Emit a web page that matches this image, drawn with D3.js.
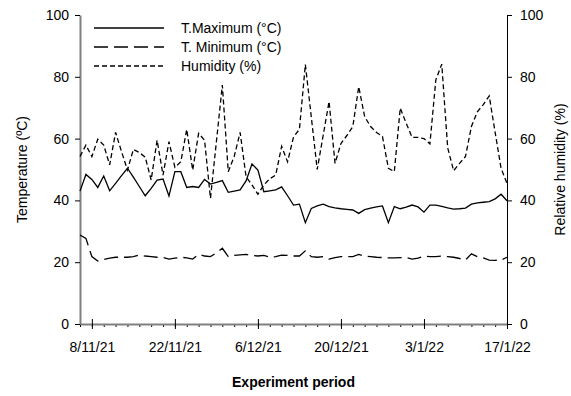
<!DOCTYPE html>
<html>
<head>
<meta charset="utf-8">
<script src="https://cdn.jsdelivr.net/npm/d3@7"></script>
<style>
  body { margin: 0; background: #fff; }
  text { font-family: Arial, "Liberation Sans", sans-serif; fill: #000; }
</style>
</head>
<body>
<div id="chart"></div>
<script>
// daily readings, 6/11/21 .. 17/1/22
const startDay = new Date(2021, 10, 6);
const endDay = new Date(2022, 0, 17);
const tickLabels = ["8/11/21", "22/11/21", "6/12/21", "20/12/21", "3/1/22", "17/1/22"];
const yTicks = [0, 20, 40, 60, 80, 100];
const seriesNames = ["T.Maximum (°C)", "T. Minimum (°C)", "Humidity (%)"];

const tMax = [43, 48.4, 46.8, 44.2, 47.9, 43.1, 45.5, 48, 50.4, 47.5, 44.5, 41.5, 43.9, 46.6, 46.9, 41.4,
  49.3, 49.3, 44.2, 44.5, 44.2, 46.8, 45.3, 45.8, 46.4, 42.6, 43, 43.4, 46.3, 51.8, 49.8, 42.8, 43.1,
  43.4, 44.4, 41.5, 38.5, 38.8, 32.8, 37.4, 38.2, 38.8, 38, 37.6, 37.3, 37.1, 36.9, 35.8, 37, 37.5,
  37.9, 38.2, 32.8, 38, 37.3, 37.8, 38.5, 37.9, 36.2, 38.5, 38.5, 38.1, 37.6, 37.2, 37.3, 37.5, 38.8,
  39.2, 39.4, 39.6, 40.5, 42, 39.9];

const tMin = [28.8, 27.7, 21.8, 20.4, 20.9, 21.3, 21.6, 21.6, 21.6, 21.8, 22.3, 22, 21.8, 21.6, 21.5, 21,
  21.3, 21.6, 21.4, 21, 22.5, 22, 21.8, 23, 24.5, 21.8, 22.2, 22.4, 22.5, 22.2, 22, 22.2, 21.6, 21.8,
  22.3, 22.2, 22, 22, 23.7, 21.8, 21.6, 21.8, 21, 21.5, 21.8, 21.8, 21.8, 22.5, 22, 21.8, 21.6, 21.5,
  21.4, 21.4, 21.5, 21.5, 21, 21.3, 22, 21.8, 21.8, 22, 21.8, 21.6, 21.2, 20.7, 22.7, 21.8, 21.4,
  20.7, 20.6, 20.7, 21.6];

const humidity = [54.2, 57.9, 54.2, 59.8, 57.9, 51.5, 62, 55.8, 49.8, 56.5, 55.5, 54, 46.6, 59.5, 48.2,
  59, 50.7, 52.5, 63, 49.8, 61.7, 59.5, 40.7, 59, 77.3, 49.3, 54.2, 62, 47.7, 45, 42, 45, 47, 48.2,
  57.5, 52.5, 60.5, 63, 84, 67, 50, 61, 72, 52, 58.4, 61, 63.9, 76.8, 67.1, 63.9, 62, 60.7, 50.4,
  49.3, 69.9, 65, 60.4, 60.4, 60, 58.3, 79, 84.1, 57, 49.6, 52, 54.2, 63.9, 68.7, 71, 73.8, 62, 50.4,
  45.5];

const days = d3.timeDay.range(startDay, d3.timeDay.offset(endDay, 1));

const width = 571, height = 396;
const margin = { top: 15, right: 64, bottom: 72, left: 80 };

const svg = d3.select("#chart").append("svg")
  .attr("width", width)
  .attr("height", height);

const x = d3.scaleTime().domain([startDay, endDay]).range([margin.left, width - margin.right]);
const yL = d3.scaleLinear().domain([0, 100]).range([height - margin.bottom, margin.top]);
const yR = d3.scaleLinear().domain([0, 100]).range([height - margin.bottom, margin.top]);

const parseTick = d3.timeParse("%d/%m/%y");
const majorTicks = tickLabels.map(parseTick);
// a small tick every second day
const minorTicks = days.filter((d, i) => i % 2 === 0);

// bottom axis: minor ticks
svg.append("g")
  .attr("transform", `translate(0,${height - margin.bottom})`)
  .call(d3.axisBottom(x).tickValues(minorTicks).tickSize(3).tickFormat(""))
  .call(g => g.select(".domain").remove())
  .call(g => g.selectAll("line").attr("stroke", "#000"));

// bottom axis: major ticks + labels
const xAxis = svg.append("g")
  .attr("transform", `translate(0,${height - margin.bottom})`)
  .call(d3.axisBottom(x).tickValues(majorTicks).tickSize(5).tickSizeOuter(0).tickPadding(13)
    .tickFormat((d, i) => tickLabels[i]));
xAxis.select(".domain").attr("stroke", "#808080").attr("stroke-width", 2);
xAxis.selectAll(".tick line").attr("y1", -5).attr("stroke", "#000");
xAxis.selectAll("text").attr("font-size", "14px");

// left axis
const leftAxis = svg.append("g")
  .attr("transform", `translate(${margin.left},0)`)
  .call(d3.axisLeft(yL).tickValues(yTicks).tickSize(5).tickSizeOuter(0).tickPadding(6));
leftAxis.select(".domain").attr("stroke", "#808080").attr("stroke-width", 2);
leftAxis.selectAll("text").attr("font-size", "14px");

// right axis
const rightAxis = svg.append("g")
  .attr("transform", `translate(${width - margin.right},0)`)
  .call(d3.axisRight(yR).tickValues(yTicks).tickSize(5).tickSizeOuter(0).tickPadding(8));
rightAxis.selectAll("text").attr("font-size", "14px");

// lines
const lineL = d3.line().x((d, i) => x(days[i])).y(d => yL(d));
const lineR = d3.line().x((d, i) => x(days[i])).y(d => yR(d));

const styles = [
  { data: tMax, line: lineL, dash: null },
  { data: tMin, line: lineL, dash: "14,6" },
  { data: humidity, line: lineR, dash: "5,3" }
];

styles.forEach(s => {
  svg.append("path")
    .datum(s.data)
    .attr("d", s.line)
    .attr("fill", "none")
    .attr("stroke", "#000")
    .attr("stroke-width", 1.3)
    .attr("stroke-dasharray", s.dash);
});

// legend
const legend = svg.append("g");
seriesNames.forEach((name, i) => {
  const ly = 28 + i * 19;
  legend.append("line")
    .attr("x1", 94).attr("x2", 164)
    .attr("y1", ly).attr("y2", ly)
    .attr("stroke", "#000")
    .attr("stroke-width", 1.3)
    .attr("stroke-dasharray", styles[i].dash);
  legend.append("text")
    .attr("x", 181).attr("y", ly)
    .attr("dy", "0.35em")
    .attr("font-size", "14px")
    .text(name);
});

// axis titles
svg.append("text")
  .attr("transform", `translate(22,${(margin.top + height - margin.bottom) / 2}) rotate(-90)`)
  .attr("text-anchor", "middle")
  .attr("dy", "0.35em")
  .attr("font-size", "14px")
  .text("Temperature (ºC)");

svg.append("text")
  .attr("transform", `translate(560,${(margin.top + height - margin.bottom) / 2}) rotate(-90)`)
  .attr("text-anchor", "middle")
  .attr("dy", "0.35em")
  .attr("font-size", "14px")
  .text("Relative humidity (%)");

svg.append("text")
  .attr("x", (margin.left + width - margin.right) / 2)
  .attr("y", 382)
  .attr("text-anchor", "middle")
  .attr("dy", "0.35em")
  .attr("font-size", "14px")
  .attr("font-weight", "bold")
  .text("Experiment period");
</script>
</body>
</html>
